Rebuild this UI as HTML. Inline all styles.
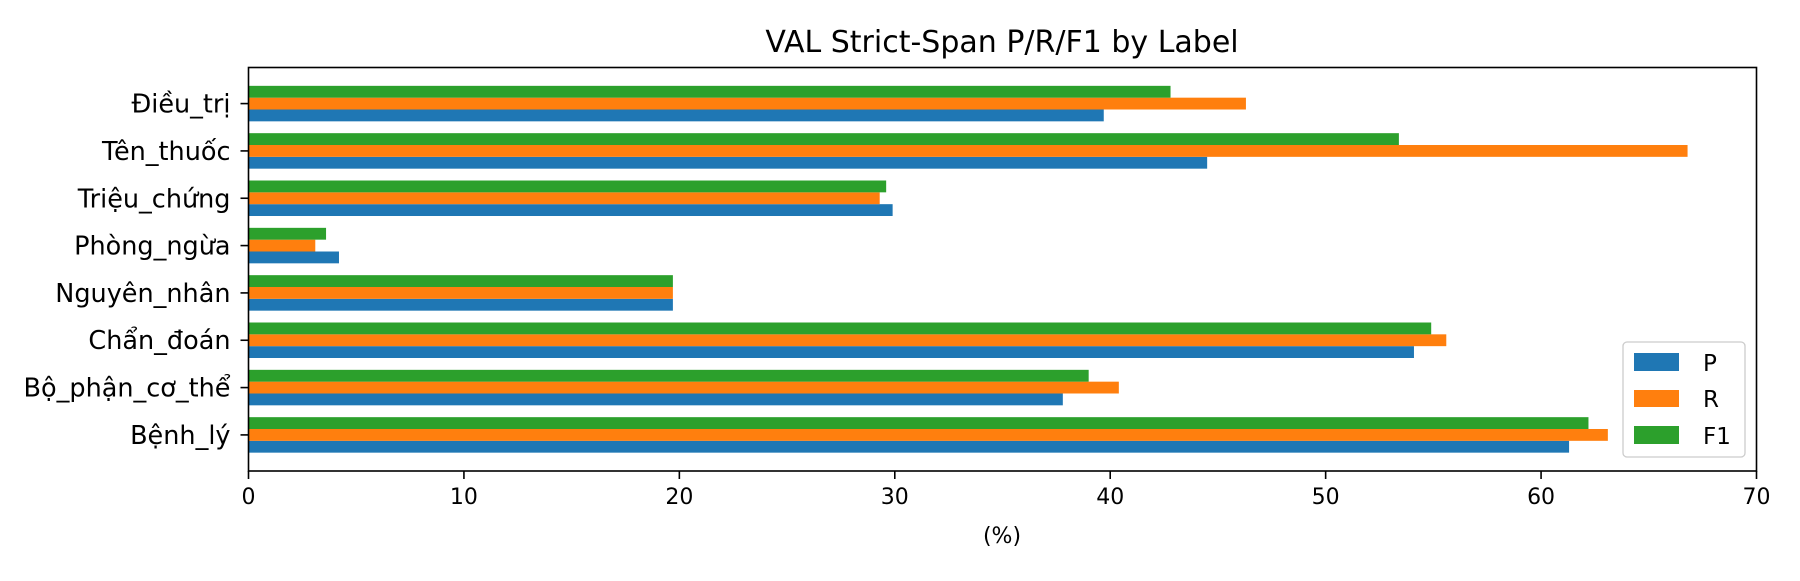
<!DOCTYPE html>
<html><head><meta charset="utf-8"><style>
body{margin:0;background:#fff;}
svg text{font-family:"DejaVu Sans","Liberation Sans",sans-serif;fill:#000;}
</style></head><body>
<svg id="chart" width="1800" height="576" xmlns="http://www.w3.org/2000/svg">
<text x="1002" y="52" font-size="30" text-anchor="middle">VAL Strict-Span P/R/F1 by Label</text>
<g id="bars"></g>
<rect x="248.5" y="67.5" width="1508" height="403.5" fill="none" stroke="#000" stroke-width="1.6"/>
<g id="axes"></g>
<text x="1002" y="543" font-size="22" text-anchor="middle">(%)</text>
<g>
<rect x="1623" y="342" width="122" height="115" rx="4" fill="#fff" fill-opacity="0.8" stroke="#ccc" stroke-width="1.3"/>
<rect x="1634" y="353" width="45" height="18" fill="#1f77b4"/>
<text x="1703" y="371" font-size="23">P</text>
<rect x="1634" y="390" width="45" height="17" fill="#ff7f0e"/>
<text x="1703" y="407" font-size="23">R</text>
<rect x="1634" y="426" width="45" height="18" fill="#2ca02c"/>
<text x="1703" y="444" font-size="23">F1</text>
</g>
</svg>
<script>
const categories=["Bệnh_lý","Bộ_phận_cơ_thể","Chẩn_đoán","Nguyên_nhân","Phòng_ngừa","Triệu_chứng","Tên_thuốc","Điều_trị"];
const pValues=[61.3,37.8,54.1,19.7,4.2,29.9,44.5,39.7];
const rValues=[63.1,40.4,55.6,19.7,3.1,29.3,66.8,46.3];
const f1Values=[62.2,39.0,54.9,19.7,3.6,29.6,53.4,42.8];
const xTicks=[0,10,20,30,40,50,60,70];
const NS="http://www.w3.org/2000/svg";
const L=248.5,R=1756.5,T=67.5,B=471;
const yMin=-0.7625,yMax=7.7625;
function xs(v){return L+(v/70)*(R-L);}
function ys(v){return T+(yMax-v)/(yMax-yMin)*(B-T);}
const bars=document.getElementById('bars');
const series=[[pValues,"#1f77b4",-0.25,"p"],[rValues,"#ff7f0e",0,"r"],[f1Values,"#2ca02c",0.25,"f1"]];
series.forEach(s=>{
 s[0].forEach((v,i)=>{
  const r=document.createElementNS(NS,'rect');
  const yc=i+s[2];
  r.setAttribute('x',xs(0));
  r.setAttribute('y',ys(yc+0.125));
  r.setAttribute('width',xs(v)-xs(0));
  r.setAttribute('height',ys(yc-0.125)-ys(yc+0.125));
  r.setAttribute('fill',s[1]);
  
  
  bars.appendChild(r);
 });
});
const axes=document.getElementById('axes');
xTicks.forEach(t=>{
 const l=document.createElementNS(NS,'line');
 l.setAttribute('x1',xs(t));l.setAttribute('x2',xs(t));
 l.setAttribute('y1',B);l.setAttribute('y2',B+8);
 l.setAttribute('stroke','#000');l.setAttribute('stroke-width','1.6');
 
 
 axes.appendChild(l);
 const tx=document.createElementNS(NS,'text');
 tx.setAttribute('x',xs(t));tx.setAttribute('y',B+33);
 tx.setAttribute('font-size','22');tx.setAttribute('text-anchor','middle');
 tx.textContent=t;
 
 
 axes.appendChild(tx);
});
categories.forEach((c,i)=>{
 const l=document.createElementNS(NS,'line');
 l.setAttribute('x1',L-8);l.setAttribute('x2',L);
 l.setAttribute('y1',ys(i));l.setAttribute('y2',ys(i));
 l.setAttribute('stroke','#000');l.setAttribute('stroke-width','1.6');
 
 
 axes.appendChild(l);
 const tx=document.createElementNS(NS,'text');
 tx.setAttribute('x',L-18);tx.setAttribute('y',ys(i)+9);
 tx.setAttribute('font-size','25.5');tx.setAttribute('text-anchor','end');
 tx.textContent=c;
 
 
 axes.appendChild(tx);
});
</script>
</body></html>
